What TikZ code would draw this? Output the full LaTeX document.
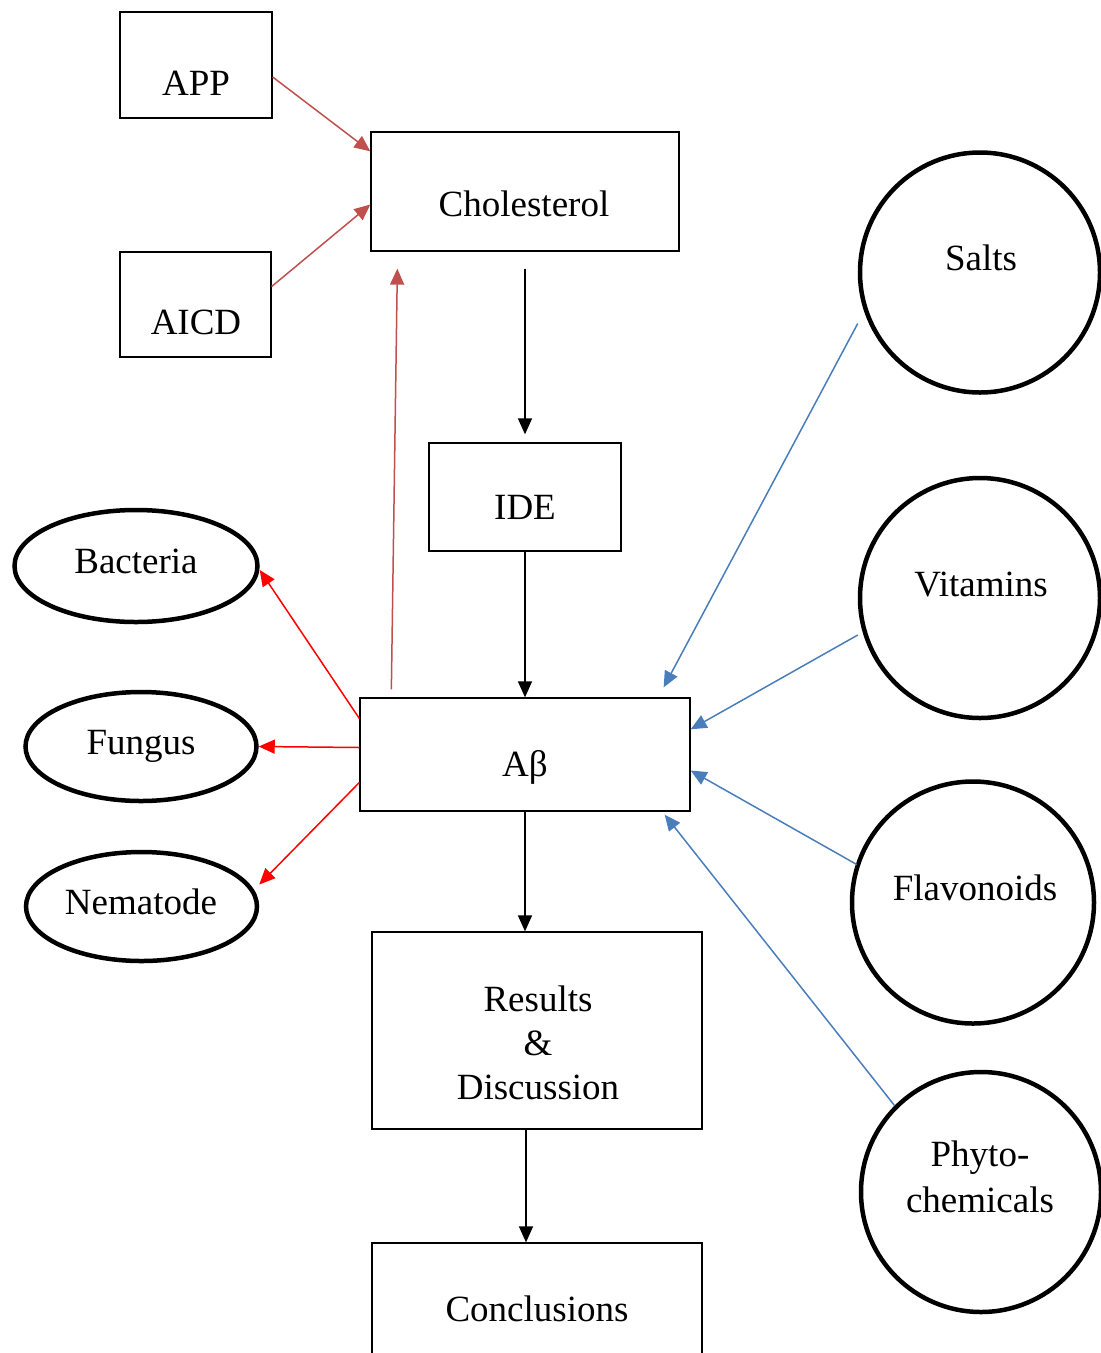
\documentclass[tikz,border=0pt]{standalone}
\usepackage{fontspec}
\setmainfont{Liberation Serif}
\usetikzlibrary{arrows.meta, shapes.geometric}
\definecolor{linkred}{HTML}{C0504D}
\definecolor{linkblue}{HTML}{4A7EBB}
\tikzset{
    x=1pt, y=-1pt, % pixel-like units, y grows downwards
    box/.style={draw, rectangle, line width=1.3pt, inner sep=0pt}, % the rectangular steps
    blob/.style={draw, ellipse, line width=4.5pt, inner sep=0pt}, % organisms on the left
    ring/.style={draw, circle, line width=4.5pt, inner sep=0pt, minimum size=240pt}, % compounds on the right
    tag/.style={anchor=base, inner sep=0pt, font=\fontsize{37}{44}\selectfont},
    link/.style={-{Triangle[length=16pt, width=14pt]}, line width=1.5pt},
}
\begin{document}
\begin{tikzpicture}
        \useasboundingbox (0,0) rectangle (1101,1353);

        \node[box, minimum width=152pt, minimum height=106pt] (app) at (196,65) {};
        \node[box, minimum width=308pt, minimum height=119pt] (chol) at (525,191.5) {};
        \node[box, minimum width=151pt, minimum height=105pt] (aicd) at (195.5,304.5) {};
        \node[box, minimum width=192pt, minimum height=108pt] (ide) at (525,497) {};
        \node[box, minimum width=330pt, minimum height=113pt] (ab) at (525,754.5) {};
        \node[box, minimum width=330pt, minimum height=197pt] (res) at (537,1030.5) {};
        \node[box, minimum width=330pt, minimum height=140pt] (concl) at (537,1313) {};

        \node[blob, minimum width=243pt, minimum height=112pt] (bact) at (136,566) {};
        \node[blob, minimum width=231pt, minimum height=109pt] (fung) at (141,746.5) {};
        \node[blob, minimum width=231pt, minimum height=109pt] (nema) at (141.5,906.5) {};

        \node[ring] (salts) at (980,272.5) {};
        \node[ring] (vit) at (980,598) {};
        \node[ring, minimum size=242pt] (flav) at (973,902.5) {};
        \node[ring] (phyto) at (981,1192) {};

        \node[tag] (app-text) at (196,95) {APP};
        \node[tag] (chol-text) at (524,216) {Cholesterol};
        \node[tag] (aicd-text) at (196,334) {AICD};
        \node[tag] (ide-text) at (525,519) {IDE};
        \node[tag] (ab-text) at (525,776) {Aβ};
        \node[tag, anchor=center, align=center] (res-text) at (538,1043) {Results\\\&\\Discussion};
        \node[tag] (concl-text) at (537,1321) {Conclusions};
        \node[tag] (bact-text) at (136,573) {Bacteria};
        \node[tag] (fung-text) at (141,754) {Fungus};
        \node[tag] (nema-text) at (141,914) {Nematode};
        \node[tag] (salts-text) at (981,270) {Salts};
        \node[tag] (vit-text) at (981,596) {Vitamins};
        \node[tag] (flav-text) at (975,900) {Flavonoids};
        \node[tag, anchor=center, align=center, font=\fontsize{37}{46}\selectfont] (phyto-text) at (980,1177) {Phyto-\\chemicals};

        % main chain
        \draw[link] ([yshift=-17pt]chol.south) -- ([yshift=8pt]ide.north);
        \draw[link] (ide.south) -- (ab.north);
        \draw[link] (ab.south) -- (ab.south |- res.north);
        \draw[link] ([xshift=-11pt]res.south) -- ([xshift=-11pt]concl.north);

        % into cholesterol
        \draw[link, linkred] ([yshift=-12pt]app.east) -- ([yshift=-20pt]chol.north west);
        \draw[link, linkred] ([yshift=18pt]aicd.east) -- ([yshift=-13pt]chol.west);
        \draw[link, linkred] ([xshift=32pt, yshift=8pt]ab.north west) -- ([xshift=27pt, yshift=-17pt]chol.south west);

        % out to organisms
        \draw[link, red] ([yshift=36pt]ab.west) -- ([yshift=-4pt]bact.east);
        \draw[link, red] ([yshift=7pt]ab.west) -- (fung.east);
        \draw[link, red] ([yshift=-28pt]ab.west) -- ([yshift=22pt]nema.east);

        % compounds acting on Abeta
        \draw[link, linkblue] ([yshift=-51pt]salts.west) -- ([xshift=-27pt, yshift=10pt]ab.north east);
        \draw[link, linkblue] ([yshift=-37pt]vit.west) -- ([yshift=-32pt]ab.north east);
        \draw[link, linkblue] ([xshift=7pt, yshift=38pt]flav.west) -- ([yshift=-16pt]ab.east);
        \draw[link, linkblue] (phyto.north west) -- ([xshift=-26pt, yshift=-3pt]ab.south east);

    \end{tikzpicture}
\end{document}
